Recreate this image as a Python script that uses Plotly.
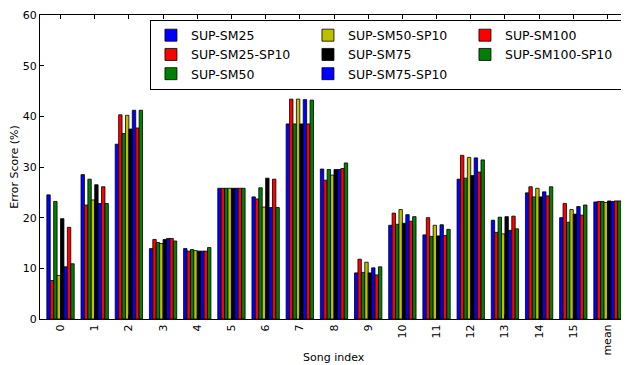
import plotly.graph_objects as go

categories = ["0", "1", "2", "3", "4", "5", "6", "7", "8", "9", "10", "11", "12", "13", "14", "15", "mean"]

series_names = ["SUP-SM25", "SUP-SM25-SP10", "SUP-SM50", "SUP-SM50-SP10",
                "SUP-SM75", "SUP-SM75-SP10", "SUP-SM100", "SUP-SM100-SP10"]

sm25 =       [24.5, 28.5, 34.5, 13.9, 13.9, 25.8, 24.1, 38.5, 29.6, 9.1, 18.5, 16.6, 27.6, 19.5, 24.9, 20.0, 23.1]
sm25_sp10 =  [7.6, 22.5, 40.3, 15.7, 13.4, 25.8, 23.7, 43.4, 27.4, 11.8, 20.9, 20.0, 32.3, 17.1, 26.1, 22.8, 23.2]
sm50 =       [23.2, 27.6, 36.6, 15.1, 13.7, 25.8, 25.9, 38.5, 29.5, 9.2, 18.7, 16.3, 27.8, 20.1, 24.1, 19.1, 23.2]
sm50_sp10 =  [8.6, 23.5, 40.2, 14.9, 13.5, 25.8, 22.1, 43.4, 28.4, 11.2, 21.6, 18.5, 31.9, 16.8, 25.8, 21.6, 23.0]
sm75 =       [19.8, 26.5, 37.5, 15.7, 13.4, 25.8, 27.8, 38.5, 29.5, 9.1, 18.9, 16.4, 28.3, 20.2, 24.1, 20.7, 23.3]
sm75_sp10 =  [10.3, 22.8, 41.2, 15.9, 13.4, 25.8, 22.0, 43.3, 29.5, 10.1, 20.6, 18.6, 31.8, 17.5, 25.1, 22.2, 23.2]
sm100 =      [18.1, 26.1, 37.7, 15.9, 13.4, 25.8, 27.6, 38.5, 29.7, 8.7, 19.3, 16.5, 29.0, 20.3, 24.3, 20.5, 23.3]
sm100_sp10 = [10.9, 22.8, 41.2, 15.4, 14.1, 25.8, 22.0, 43.2, 30.8, 10.3, 20.2, 17.7, 31.4, 17.8, 26.1, 22.5, 23.3]

series_values = [sm25, sm25_sp10, sm50, sm50_sp10, sm75, sm75_sp10, sm100, sm100_sp10]
colors = ["#0000ff", "#ff0000", "#008000", "#bfbf00", "#000000", "#0000ff", "#ff0000", "#008000"]
legend_ranks = [1, 4, 7, 2, 5, 8, 3, 6]

y_ticks = [0, 10, 20, 30, 40, 50, 60]

font_family = "DejaVu Sans"

fig = go.Figure()
for name, vals, col, rank in zip(series_names, series_values, colors, legend_ranks):
    fig.add_trace(go.Bar(
        x=categories, y=vals, name=name,
        marker=dict(color=col, line=dict(color="black", width=0.8)),
        legendrank=rank,
    ))

# the page body has an 8px margin, so the figure is sized to fit the rest of the window
fig.update_layout(
    width=621, height=357,
    margin=dict(l=32, r=1, t=7, b=46, autoexpand=False),
    paper_bgcolor="white", plot_bgcolor="white",
    barmode="group", bargap=0.2, bargroupgap=0,
    font=dict(family=font_family, size=11, color="black"),
    showlegend=True,
    legend=dict(
        orientation="h",
        x=0.187, y=0.985, xanchor="left", yanchor="top",
        entrywidth=112, entrywidthmode="pixels",
        bordercolor="black", borderwidth=1, bgcolor="white",
        font=dict(family=font_family, size=12.5, color="black"),
        tracegroupgap=0, itemwidth=30,
    ),
    annotations=[dict(
        text="Song index", xref="paper", yref="paper", x=0.5, y=-0.128,
        xanchor="center", yanchor="middle", showarrow=False,
        font=dict(family=font_family, size=11, color="black"),
    )],
)

fig.update_xaxes(
    type="category", categoryorder="array", categoryarray=categories,
    range=[-0.6, 16.6],
    tickangle=-90,
    showline=True, linecolor="black", linewidth=1, mirror="ticks",
    ticks="inside", ticklen=4, tickcolor="black",
    showgrid=False, zeroline=False, automargin=False,
    tickfont=dict(family=font_family, size=11),
)
fig.update_yaxes(
    range=[0, 60], tickvals=y_ticks, ticktext=[str(v) for v in y_ticks],
    showline=True, linecolor="black", linewidth=1, mirror="ticks",
    ticks="inside", ticklen=4, tickcolor="black",
    showgrid=False, zeroline=False, automargin=False,
    tickfont=dict(family=font_family, size=11),
    title=dict(text="Error Score (%)", font=dict(family=font_family, size=11), standoff=8),
)

fig.write_html("out.html")
